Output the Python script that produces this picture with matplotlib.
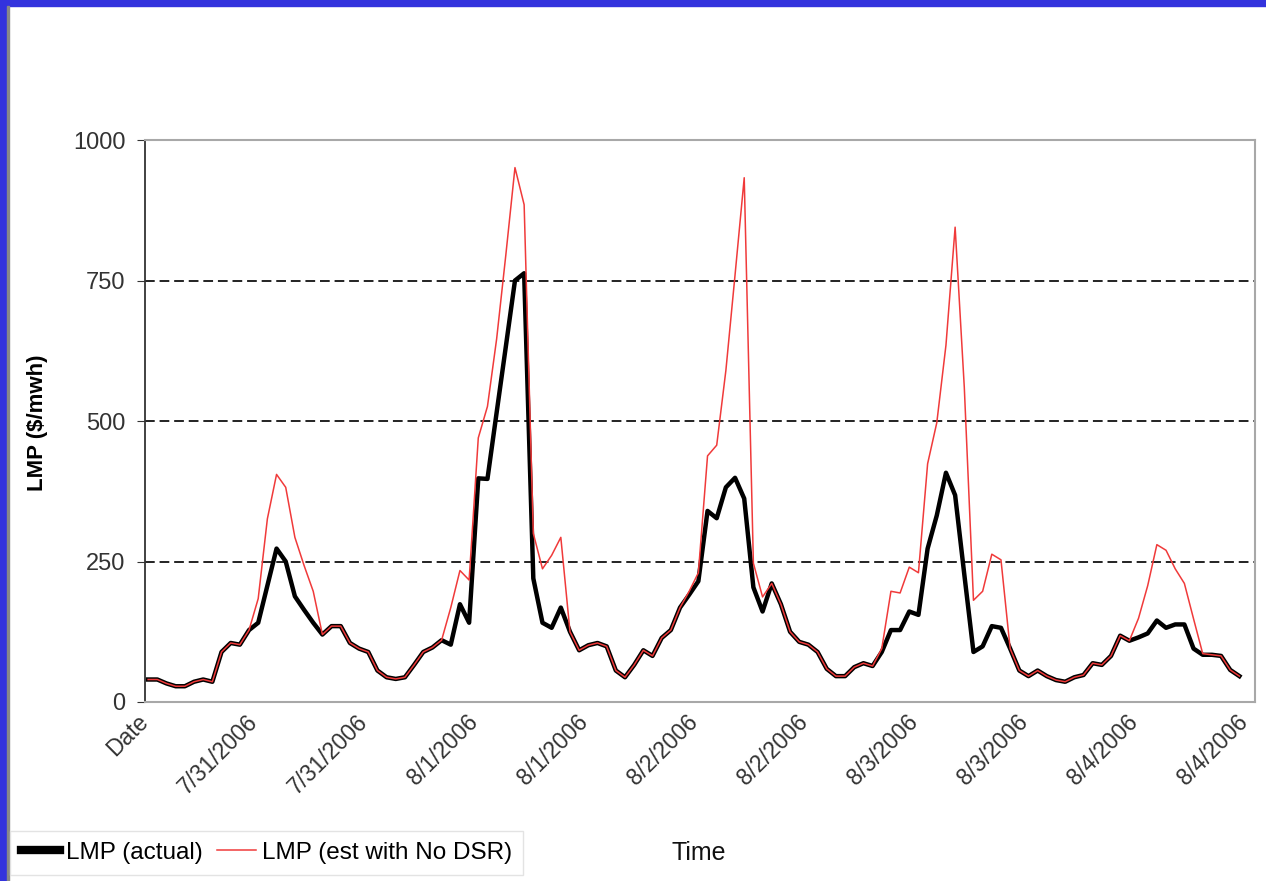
import numpy as np
import matplotlib.pyplot as plt
from matplotlib.patches import Rectangle
from matplotlib.transforms import ScaledTranslation

plt.rcParams['font.family'] = ['Liberation Sans', 'DejaVu Sans']

# LMP, hourly, 7/30/2006 evening .. 8/4/2006
lmp_actual = [40, 40, 33, 28, 28, 36, 40, 36, 89, 105,
              102, 128, 141, 207, 273, 250, 188, 164, 141, 120,
              135, 135, 105, 95, 89, 56, 44, 41, 44, 66,
              89, 97, 110, 102, 174, 141, 398, 397, 515, 632,
              750, 763, 220, 141, 132, 168, 125, 92, 101, 105,
              99, 56, 44, 66, 92, 82, 114, 128, 168, 191,
              215, 340, 327, 382, 399, 362, 204, 161, 211, 174,
              125, 107, 102, 89, 59, 46, 46, 62, 69, 64,
              89, 128, 128, 161, 155, 273, 332, 408, 368, 227,
              89, 99, 135, 132, 95, 56, 46, 56, 46, 39,
              36, 44, 48, 69, 66, 82, 118, 109, 115, 122,
              145, 132, 138, 138, 95, 84, 84, 82, 57, 46]

lmp_no_dsr = [40, 40, 33, 28, 28, 36, 40, 36, 89, 105,
              102, 128, 184, 326, 405, 382, 293, 243, 197, 120,
              135, 135, 105, 95, 89, 56, 44, 41, 44, 66,
              89, 97, 110, 168, 234, 217, 470, 526, 646, 795,
              951, 885, 300, 237, 261, 293, 125, 92, 101, 105,
              99, 56, 44, 66, 92, 82, 114, 128, 168, 197,
              230, 438, 457, 590, 760, 933, 247, 187, 211, 174,
              125, 107, 102, 89, 59, 46, 46, 62, 69, 64,
              95, 197, 194, 240, 230, 424, 497, 635, 845, 560,
              181, 197, 263, 253, 95, 56, 46, 56, 46, 39,
              36, 44, 48, 69, 66, 82, 118, 109, 149, 207,
              280, 270, 237, 211, 148, 86, 84, 82, 57, 46]

tick_labels = ['Date', '7/31/2006', '7/31/2006', '8/1/2006', '8/1/2006',
               '8/2/2006', '8/2/2006', '8/3/2006', '8/3/2006',
               '8/4/2006', '8/4/2006']

hours = np.arange(len(lmp_actual))

fig = plt.figure(figsize=(12.66, 8.81), dpi=100)
ax = fig.add_axes([0.1145, 0.2032, 0.8768, 0.6378])

ax.plot(hours, lmp_actual, color='black', lw=3.2, label='LMP (actual)',
        solid_joinstyle='round', zorder=3)
ax.plot(hours, lmp_no_dsr, color='#f03a3a', lw=1.1,
        label='LMP (est with No DSR)', zorder=4)

ax.set_ylim(0, 1000)
ax.set_yticks([0, 250, 500, 750, 1000])
ax.set_xlim(-0.35, 120.7)
ax.set_xticks(np.arange(0, 121, 12))
ax.set_xticklabels(tick_labels, rotation=45, ha='right',
                   rotation_mode='anchor', fontsize=16.5, color='#333333')
ax.tick_params(axis='x', length=0, pad=6)
ax.tick_params(axis='y', labelsize=17, labelcolor='#333333', length=6,
               pad=8, color='#333333')
shift = ScaledTranslation(-12 / 100, 0, fig.dpi_scale_trans)
for lab in ax.get_xticklabels():
    lab.set_transform(lab.get_transform() + shift)

for v in [250, 500, 750]:
    ax.axhline(v, color='#222222', lw=1.4, ls=(0, (5, 2.5)), zorder=1)

for side in ['top', 'right', 'bottom']:
    ax.spines[side].set_color('#a8a8a8')
    ax.spines[side].set_linewidth(1.5)
ax.spines['left'].set_color('#333333')
ax.spines['left'].set_linewidth(1.3)

fig.text(0.030, 0.52, 'LMP (\\$/mwh)', rotation=90, ha='center',
         va='center', fontsize=16, fontweight='bold')
fig.text(0.552, 0.032, 'Time', ha='center', va='center', fontsize=18,
         color='#111111')

leg = fig.legend(loc='lower left', bbox_to_anchor=(0.008, 0.007), ncol=2,
                 fontsize=17.5, frameon=True, fancybox=False,
                 handlelength=1.6, handletextpad=0.25, columnspacing=0.6,
                 borderpad=0.45, borderaxespad=0)
leg.get_frame().set_edgecolor('#dddddd')
leg.get_frame().set_linewidth(1)
for line in leg.get_lines():
    if line.get_color() == 'black':
        line.set_linewidth(6)

# blue slide border, top and left
fig.patches.append(Rectangle((0, 0.993), 1, 0.007, transform=fig.transFigure,
                             color='#3333dd', zorder=0))
fig.patches.append(Rectangle((0, 0), 0.0055, 1, transform=fig.transFigure,
                             color='#3333dd', zorder=0))
fig.patches.append(Rectangle((0.0055, 0), 0.0015, 0.993,
                             transform=fig.transFigure, color='#888888',
                             zorder=0))

fig.savefig('out.png', dpi=100)
